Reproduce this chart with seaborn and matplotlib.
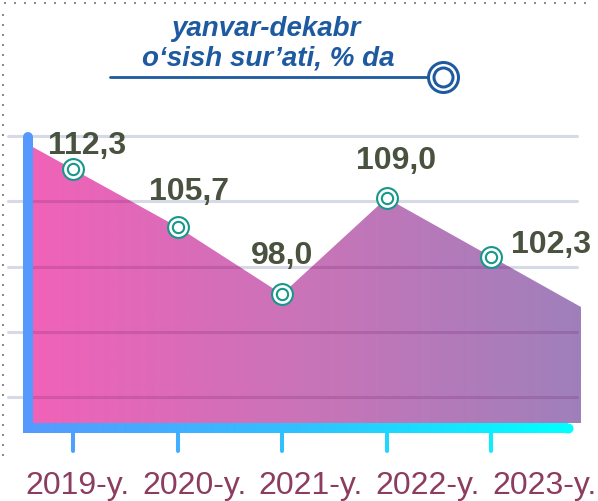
import numpy as np
import pandas as pd
import matplotlib
matplotlib.use("Agg")
import matplotlib.pyplot as plt
import matplotlib.colors as mcolors
from matplotlib.collections import LineCollection
from matplotlib.lines import Line2D
import seaborn as sns

# --- data -----------------------------------------------------------------
years = ["2019-y.", "2020-y.", "2021-y.", "2022-y.", "2023-y."]
growth = [112.3, 105.7, 98.0, 109.0, 102.3]
value_labels = ["112,3", "105,7", "98,0", "109,0", "102,3"]
title_lines = ["yanvar-dekabr", "o‘sish sur’ati, % da"]

# value label offsets from each marker (points)
label_offsets = [(10, 17.4), (8.3, 25.8), (0, 28.2), (6.8, 27.4), (43.2, 9.1)]

W, H = 598, 502
sns.set_theme(style="white")
plt.rcParams["font.family"] = ["Liberation Sans", "DejaVu Sans"]

fig = plt.figure(figsize=(W / 100, H / 100), dpi=100)
fig.patch.set_facecolor("white")


def px_box(left, top, right, bottom):
    return [left / W, 1 - bottom / H, (right - left) / W, (bottom - top) / H]


df = pd.DataFrame({"year": years, "growth": growth,
                   "pos": np.arange(len(years), dtype=float)})

ax = fig.add_axes(px_box(23, 130, 590, 433))
XLIM = (-50 / 104.5, 517 / 104.5)
YLIM = (82.23, 116.90)
ax.set_xlim(*XLIM)
ax.set_ylim(*YLIM)
ax.axis("off")

# --- gradient area -----------------------------------------------------------
x_left, x_right = -40 / 104.5, 508 / 104.5   # area bleeds to the frame edges
base = 83.26


def edge_value(x, x0, y0, x1, y1):
    return y0 + (y1 - y0) * (x - x0) / (x1 - x0)


yl = edge_value(x_left, 0, growth[0], 1, growth[1])
yr = edge_value(x_right, 3, growth[3], 4, growth[4])
area_x = np.r_[x_left, df["pos"].to_numpy(), x_right]
area_y = np.r_[yl, df["growth"].to_numpy(), yr]

poly = ax.fill_between(area_x, base, area_y, color="none", lw=0)
area_path = poly.get_paths()[0]

area_cmap = mcolors.LinearSegmentedColormap.from_list(
    "area", ["#f062b8", "#c974b8", "#9f80bb"])
grad = np.linspace(0, 1, 256).reshape(1, -1)
im = ax.imshow(grad, cmap=area_cmap, aspect="auto", interpolation="bilinear",
               extent=[x_left, x_right, base, area_y.max() + 1], zorder=2)
im.set_clip_path(area_path, ax.transData)

# --- horizontal guide lines ---------------------------------------------------
grid_fracs = np.linspace(0.1155, 0.9769, 5)
for gy in grid_fracs:
    ax.plot([-0.0265, 0.9771], [gy, gy], transform=ax.transAxes,
            color="#d6dae6", lw=2.2, solid_capstyle="round", zorder=1,
            clip_on=False)
    over = ax.plot([-0.0265, 0.9771], [gy, gy], transform=ax.transAxes,
                   color="#6a1f6a", alpha=0.2, lw=2.2, zorder=3)[0]
    over.set_clip_path(area_path, ax.transData)

# --- axis lines ----------------------------------------------------------------
axis_cmap = mcolors.LinearSegmentedColormap.from_list(
    "axis", ["#5599ff", "#30c0ff", "#00ffff"])
hy = 4 / 303
x_end = 0.9612
n = 200
xs = np.linspace(0, x_end, n + 1)
segs = [[(xs[k], hy), (xs[min(k + 2, n)], hy)] for k in range(n)]
lc = LineCollection(segs, colors=axis_cmap(np.linspace(0, 1, n)),
                    linewidths=7.2, capstyle="butt", transform=ax.transAxes,
                    clip_on=False, zorder=5)
ax.add_collection(lc)
ax.plot([x_end], [hy], "o", ms=7.2, mew=0, color="#00ffff",
        transform=ax.transAxes, clip_on=False, zorder=5)
ax.plot([5 / 567, 5 / 567], [hy, 0.9736], color="#5599ff", lw=7.2,
        solid_capstyle="round", transform=ax.transAxes, clip_on=False, zorder=6)

# tick stubs under each year
xt = ax.get_xaxis_transform()
for p in df["pos"]:
    frac = ((73 + 104.5 * p) - 23) / (568 - 23)
    ax.plot([p, p], [-0.0033, -0.0627], transform=xt, color=axis_cmap(frac),
            lw=2.9, solid_capstyle="round", clip_on=False, zorder=4)

# --- markers --------------------------------------------------------------------
sns.scatterplot(data=df, x="pos", y="growth", s=225, color="white",
                edgecolor="#16978a", linewidth=1.5, ax=ax, zorder=7,
                legend=False, clip_on=False)
sns.scatterplot(data=df, x="pos", y="growth", s=66, color="white",
                edgecolor="#16978a", linewidth=1.5, ax=ax, zorder=8,
                legend=False, clip_on=False)

for p, v, txt, off in zip(df["pos"], df["growth"], value_labels, label_offsets):
    ax.annotate(txt, (p, v), xytext=off, textcoords="offset points",
                ha="center", va="center", fontsize=23, fontweight="bold",
                color="#48523e", zorder=9, annotation_clip=False)

ax.set_xlim(*XLIM)
ax.set_ylim(*YLIM)
ax.axis("off")

# --- year labels -----------------------------------------------------------------
lab_ax = fig.add_axes(px_box(18.5, 440, 603.5, 494))
lab_ax.set_xlim(-0.5, len(years) - 0.5)
lab_ax.set_ylim(0, 1)
lab_ax.axis("off")
for i, y in enumerate(years):
    lab_ax.text(i, 0, y, ha="center", va="baseline", fontsize=23,
                color="#8c3c5f")

# --- title block ---------------------------------------------------------------------
title_color = "#1e5aa0"
fig.text(266 / W, 1 - 36 / H, title_lines[0], ha="center", va="baseline",
         fontsize=20, fontweight="bold", fontstyle="italic", color=title_color)
fig.text(268 / W, 1 - 65 / H, title_lines[1], ha="center", va="baseline",
         fontsize=20, fontweight="bold", fontstyle="italic", color=title_color)
fig.add_artist(Line2D([110 / W, 428 / W], [1 - 78 / H] * 2, lw=2,
                      color=title_color))
fig.add_artist(Line2D([443 / W], [1 - 78 / H], marker="o", ms=30 * 0.72,
                      mfc="white", mec=title_color, mew=3 * 0.72))
fig.add_artist(Line2D([443 / W], [1 - 78 / H], marker="o", ms=19 * 0.72,
                      mfc="none", mec=title_color, mew=3 * 0.72))

# dotted frame
fig.add_artist(Line2D([4 / W, 590 / W], [1 - 4 / H] * 2, lw=1.44,
                      ls=(0, (1, 4)), color="#8c8c8c"))
fig.add_artist(Line2D([3 / W, 3 / W], [1 - 15 / H, 1 - 460 / H], lw=1.44,
                      ls=(0, (1, 4)), color="#8c8c8c"))

fig.savefig("out.png", dpi=100)
